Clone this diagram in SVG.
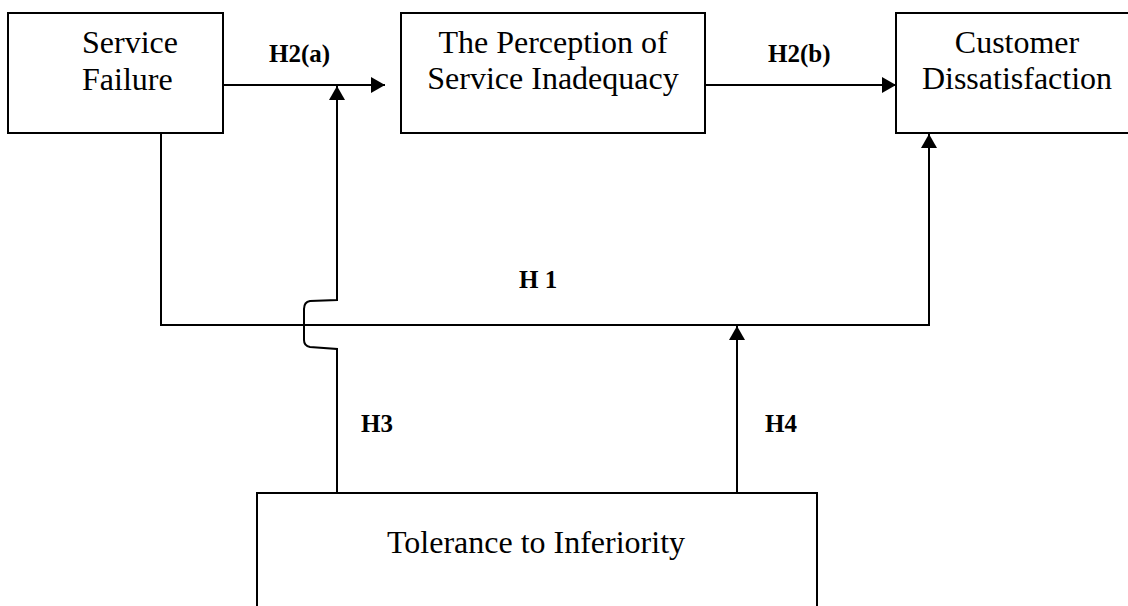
<svg xmlns="http://www.w3.org/2000/svg" width="1128" height="606" viewBox="0 0 1128 606">
<defs>
<style>
.box{fill:#fff;stroke:#000;stroke-width:2}
.t{font-family:"Liberation Serif","Times New Roman",serif;font-size:32px;fill:#000}
.c{text-anchor:middle}
.lbl{font-family:"Liberation Serif","Times New Roman",serif;font-size:25px;font-weight:bold;fill:#000}
.ln{fill:none;stroke:#000;stroke-width:2}
</style>
<marker id="ah" viewBox="0 0 14 16" refX="14" refY="8" markerWidth="14" markerHeight="16" markerUnits="userSpaceOnUse" orient="auto">
<path d="M0,0 L14,8 L0,16 Z" fill="#000"/>
</marker>
</defs>
<rect width="1128" height="606" fill="#fff"/>
<g id="connectors">
<path class="ln" d="M223,85 L385,85" marker-end="url(#ah)"/>
<path class="ln" d="M705,85 L896,85" marker-end="url(#ah)"/>
<path class="ln" d="M161,133 L161,325 L929,325 L929,134" marker-end="url(#ah)"/>
<path class="ln" d="M337,493 L337,349 L310,347 Q304,346 304,340 L304,309 Q304,302 310,301 L337,300 L337,86" marker-end="url(#ah)"/>
<path class="ln" d="M737,493 L737,326" marker-end="url(#ah)"/>
</g>
<g id="labels">
<text class="lbl" x="269" y="62">H2(a)</text>
<text class="lbl" x="768" y="62">H2(b)</text>
<text class="lbl" x="519" y="288">H 1</text>
<text class="lbl" x="361" y="432">H3</text>
<text class="lbl" x="765" y="432">H4</text>
</g>
<g id="service-failure">
<rect class="box" x="8" y="13" width="215" height="120"/>
<text class="t" x="82" y="53">Service</text>
<text class="t" x="82" y="90">Failure</text>
</g>
<g id="perception">
<rect class="box" x="401" y="13" width="304" height="120"/>
<text class="t c" x="553" y="53">The Perception of</text>
<text class="t c" x="553" y="89">Service Inadequacy</text>
</g>
<g id="dissatisfaction">
<rect class="box" x="896" y="13" width="250" height="120"/>
<text class="t c" x="1017" y="53">Customer</text>
<text class="t c" x="1017" y="89">Dissatisfaction</text>
</g>
<g id="tolerance">
<rect class="box" x="257" y="493" width="560" height="130"/>
<text class="t c" x="536" y="553">Tolerance to Inferiority</text>
</g>
</svg>
